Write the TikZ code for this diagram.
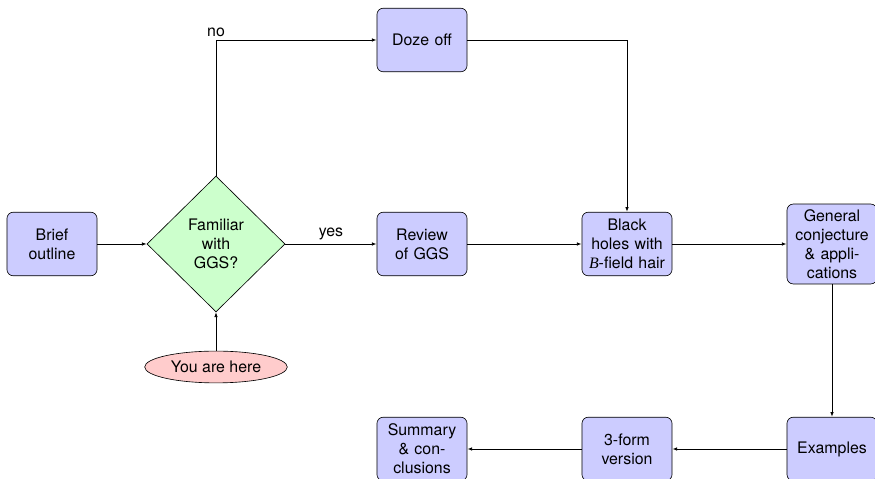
\documentclass[tikz,border=0pt]{standalone}
\usepackage{fontspec}
\setmainfont{TeX Gyre Heros}
\newfontfamily\serifB{Liberation Serif}
\usetikzlibrary{shapes.geometric,arrows.meta}
\begin{document}
\begin{tikzpicture}[x=0.629pt,y=-0.629pt,
  font=\fontsize{10}{12}\selectfont,
  block/.style={rectangle, draw, fill=blue!20, text width=5em, align=center,
    rounded corners, minimum height=4em, inner sep=0.3333em},
  decision/.style={diamond, draw, fill=green!20, text width=4.5em, align=center,
    inner sep=0pt, minimum width=86.8pt, minimum height=85.5pt},
  cloud/.style={ellipse, draw, fill=red!20, minimum height=2em, minimum width=88.7pt},
  line/.style={draw, line width=0.5pt, -{Latex[length=3pt,width=2.2pt]}},
  lbl/.style={inner sep=2pt}]
\useasboundingbox (0,0) rectangle (875,479);
\node[block] (brief) at (52,244) {Brief\\outline};
\node[decision] (decide) at (216,244) {Familiar\\with\\GGS?};
\node[cloud] (here) at (216,367) {You are here};
\node[block] (doze) at (422,40) {Doze off};
\node[block] (review) at (422,244) {Review\\of GGS};
\node[block] (bh) at (627,244) {Black\\holes with\\{\serifB\itshape B}-field hair};
\node[block] (gen) at (832,244) {General\\conjecture\\\& appli-\\cations};
\node[block] (ex) at (832,449) {Examples};
\node[block] (form) at (627,449) {3-form\\version};
\node[block] (sum) at (422,449) {Summary\\\& con-\\clusions};
\path[line] (brief) -- (decide);
\path[line] (here) -- (decide);
\path[line] (decide) -- node[lbl, above] {yes} (review);
\path[line] (decide) |- node[lbl, pos=0.5, above] {no} (doze);
\path[line] (doze) -| (bh);
\path[line] (review) -- (bh);
\path[line] (bh) -- (gen);
\path[line] (gen) -- (ex);
\path[line] (ex) -- (form);
\path[line] (form) -- (sum);
\end{tikzpicture}
\end{document}
